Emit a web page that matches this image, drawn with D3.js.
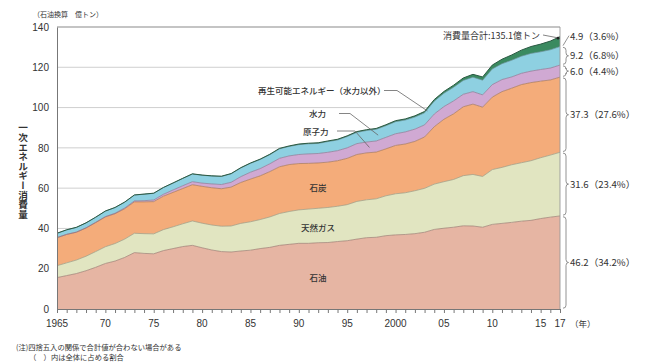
<!DOCTYPE html>
<html><head><meta charset="utf-8">
<script src="https://cdn.jsdelivr.net/npm/d3@7"></script>
<style>
html,body{margin:0;padding:0;background:#fff;}
svg text{font-family:"Noto Sans CJK JP","Noto Sans",sans-serif;fill:#333;}
.num{font-family:"Liberation Sans",Arial,sans-serif;}
</style></head>
<body>
<svg id="c" width="650" height="364"></svg>
<script>
const years = [1965,1966,1967,1968,1969,1970,1971,1972,1973,1974,1975,1976,1977,1978,1979,1980,1981,1982,1983,1984,1985,1986,1987,1988,1989,1990,1991,1992,1993,1994,1995,1996,1997,1998,1999,2000,2001,2002,2003,2004,2005,2006,2007,2008,2009,2010,2011,2012,2013,2014,2015,2016,2017];
const oil = [15.6,16.6,17.6,19.0,20.7,22.6,23.8,25.6,28.0,27.6, 27.4,29.0,30.0,31.0,31.6,30.4,29.3,28.5,28.3,28.8, 29.2,30.0,30.6,31.6,32.1,32.6,32.6,32.9,33.0,33.5, 33.9,34.7,35.4,35.6,36.4,36.8,37.0,37.4,38.1,39.5, 40.1,40.6,41.3,41.2,40.6,42.0,42.5,43.0,43.6,44.0, 44.9,45.6,46.2];
const gas = [5.9,6.3,6.7,7.2,7.8,8.3,8.7,9.1,9.6,9.8, 9.9,10.4,10.8,11.3,12.1,12.2,12.4,12.6,12.9,13.7, 14.1,14.4,15.1,15.8,16.3,16.6,17.0,17.1,17.4,17.5, 17.9,18.7,18.8,19.1,19.8,20.4,20.7,21.3,21.8,22.5, 23.1,23.7,24.9,25.6,25.2,27.2,27.8,28.6,29.0,29.6, 30.2,30.8,31.6];
const coal = [13.9,14.1,13.8,14.0,14.4,14.8,14.8,15.1,15.6,15.8, 16.0,16.6,17.1,17.5,18.0,18.3,18.5,18.6,19.3,20.3, 21.2,21.7,22.5,23.2,23.3,23.0,22.7,22.5,22.5,22.6, 23.0,23.3,23.3,23.2,23.3,24.0,24.2,24.5,25.5,28.5, 31.0,32.6,34.2,34.9,34.4,36.0,37.6,38.0,38.8,38.8, 38.0,37.3,37.3];
const nuclear = [0.06,0.08,0.09,0.12,0.14,0.18,0.25,0.34,0.45,0.58, 0.82,0.96,1.2,1.4,1.5,1.6,1.9,2.1,2.4,2.9, 3.4,3.6,3.9,4.2,4.3,4.5,4.7,4.7,4.9,5.0, 5.2,5.4,5.4,5.5,5.7,5.8,6.0,6.1,6.0,6.3, 6.3,6.4,6.2,6.2,6.1,6.2,6.0,5.6,5.6,5.7, 5.8,5.9,6.0];
const hydro = [2.1,2.2,2.3,2.4,2.5,2.7,2.8,2.9,2.9,3.2, 3.3,3.3,3.4,3.6,3.8,3.9,3.9,4.0,4.2,4.3, 4.4,4.5,4.5,4.7,4.7,4.9,5.0,5.0,5.3,5.3, 5.6,5.6,5.7,5.8,5.8,6.0,5.9,6.0,6.0,6.4, 6.6,6.8,6.9,7.2,7.3,7.8,7.9,8.3,8.5,8.8, 8.8,9.1,9.2];
const renew = [0.05,0.05,0.05,0.05,0.05,0.06,0.06,0.06,0.07,0.07, 0.08,0.08,0.09,0.09,0.1,0.1,0.11,0.12,0.14,0.16, 0.18,0.2,0.22,0.24,0.26,0.3,0.31,0.32,0.33,0.35, 0.37,0.39,0.42,0.44,0.47,0.5,0.55,0.6,0.68,0.78, 0.9,1.0,1.2,1.4,1.6,1.9,2.2,2.6,3.0,3.4, 3.8,4.3,4.9];

const seriesKeys = ["oil","gas","coal","nuclear","hydro","renew"];
const seriesNames = ["石油","天然ガス","石炭","原子力","水力","再生可能エネルギー（水力以外）"];
const seriesColors = ["#e6b5a3","#e1e5c1","#f4ac7a","#d0a9d3","#8ed0e1","#3a8a60"];
const rightLabels = ["46.2（34.2%）","31.6（23.4%）","37.3（27.6%）","6.0（4.4%）","9.2（6.8%）","4.9（3.6%）"];
const yTicks = [0,20,40,60,80,100,120,140];
const xTickYears = [1965,1970,1975,1980,1985,1990,1995,2000,2005,2010,2015,2017];
const xTickLabels = ["1965","70","75","80","85","90","95","2000","05","10","15","17"];
const totalLabel = "消費量合計:135.1億トン";

const svg = d3.select("#c");
const x = d3.scaleLinear().domain([1965,2017]).range([57,560]);
const y = d3.scaleLinear().domain([0,140]).range([309,27]);

const table = years.map((yr,i)=>({year:yr,oil:oil[i],gas:gas[i],coal:coal[i],nuclear:nuclear[i],hydro:hydro[i],renew:renew[i]}));
const stack = d3.stack().keys(seriesKeys)(table);

// grid
svg.append("g").selectAll("line").data(yTicks.filter(d=>d>0)).join("line")
  .attr("x1",x(1965)).attr("x2",x(2017)).attr("y1",d=>y(d)).attr("y2",d=>y(d))
  .attr("stroke","#c9c9c9").attr("stroke-width",0.9);

// areas
const area = d3.area().x(d=>x(d.data.year)).y0(d=>y(d[0])).y1(d=>y(d[1]));
const topLine = d3.line().x(d=>x(d.data.year)).y(d=>y(d[1]));
svg.append("g").selectAll("path").data(stack).join("path")
  .attr("d",area).attr("fill",(d,i)=>seriesColors[i]);
svg.append("g").selectAll("path").data(stack).join("path")
  .attr("d",topLine).attr("fill","none")
  .attr("stroke",(d,i)=> i===5 ? "#2c5a44" : d3.color(seriesColors[i]).darker(1.1))
  .attr("stroke-width",(d,i)=> i===5 ? 1 : 0.7);

// frame
svg.append("path").attr("d",`M${x(1965)},${y(140)}H${x(2017)}V${y(0)}`)
  .attr("fill","none").attr("stroke","#999").attr("stroke-width",0.9);
// axes
const yAxis = svg.append("g").attr("transform",`translate(${x(1965)},0)`)
  .call(d3.axisLeft(y).tickValues(yTicks).tickSize(0).tickPadding(8));
yAxis.select(".domain").attr("stroke","#777");
yAxis.selectAll("text").attr("class","num").style("font-size","10px").style("fill","#333");

const xAxis = svg.append("g").attr("transform",`translate(0,${y(0)})`)
  .call(d3.axisBottom(x).tickValues(years).tickSize(4).tickFormat(""));
xAxis.select(".domain").attr("stroke","#777");
xAxis.selectAll(".tick line").attr("stroke","#777");
svg.append("g").selectAll("text").data(xTickYears).join("text")
  .attr("class","num").attr("x",d=>x(d)).attr("y",327).attr("text-anchor","middle")
  .style("font-size","10px").text((d,i)=>xTickLabels[i]);
svg.append("text").attr("x",570).attr("y",327).style("font-size","8.5px").text("（年）");

// unit and axis title
svg.append("text").attr("x",33).attr("y",17).style("font-size","7px").text("（石油換算　億トン）");
svg.append("text").attr("x",23).attr("y",123)
  .style("writing-mode","vertical-rl").style("font-size","9.6px").style("font-weight","bold")
  .text("一次エネルギー消費量");

// right braces and labels
const last = stack.map(s=>s[s.length-1]);
const bx = 563;
function brace(y1,y2){
  const m=(y1+y2)/2, w=3;
  return `M${bx},${y1}Q${bx+w},${y1} ${bx+w},${y1+3}L${bx+w},${m-3}Q${bx+w},${m} ${bx+w+2.5},${m}Q${bx+w},${m} ${bx+w},${m+3}L${bx+w},${y2-3}Q${bx+w},${y2} ${bx},${y2}`;
}
last.forEach((d,i)=>{
  const y1=y(d[1]), y2=y(d[0]);
  if(i<5){
    svg.append("path").attr("d",brace(y1+0.8,y2-0.8)).attr("fill","none").attr("stroke","#777").attr("stroke-width",0.8);
    svg.append("text").attr("x",570).attr("y",(y1+y2)/2+3.5).style("font-size","9.6px").text(rightLabels[i]);
  } else {
    svg.append("line").attr("x1",563).attr("y1",(y1+y2)/2+4).attr("x2",569).attr("y2",y1-1)
      .attr("stroke","#777").attr("stroke-width",0.8);
    svg.append("text").attr("x",570).attr("y",y1+3).style("font-size","9.6px").text(rightLabels[i]);
  }
});

// total annotation
const totTop = y(last[5][1]);
svg.append("text").attr("x",443).attr("y",39).style("font-size","9px").text(totalLabel);
svg.append("path").attr("d",`M543,35L${x(2017)-3},${totTop+1}`).attr("fill","none").attr("stroke","#666").attr("stroke-width",0.8);
svg.append("circle").attr("cx",x(2017)-2).attr("cy",totTop+1.5).attr("r",1.3).attr("fill","#222");

// series labels with leaders
function yAt(k,yr){const s=stack[k];const i=years.indexOf(yr);return s[i];}
svg.append("text").attr("x",258).attr("y",94).style("font-size","8.5px").style("font-weight","500").text(seriesNames[5]);
svg.append("path").attr("d",`M384,90.5H397L${x(2003.3)},${y(yAt(5,2003)[1])-0.5}`).attr("fill","none").attr("stroke","#666").attr("stroke-width",0.8);

svg.append("text").attr("x",309).attr("y",117).style("font-size","8.5px").style("font-weight","500").text(seriesNames[4]);
svg.append("path").attr("d",`M339,113.5H350L${x(1998.2)},${y((yAt(4,1998)[0]+yAt(4,1998)[1])/2)}`).attr("fill","none").attr("stroke","#666").attr("stroke-width",0.8);

svg.append("text").attr("x",303).attr("y",135).style("font-size","8.5px").style("font-weight","500").text(seriesNames[3]);
svg.append("path").attr("d",`M337,131H355L${x(1997.3)},${y((yAt(3,1997)[0]+yAt(3,1997)[1])/2)}`).attr("fill","none").attr("stroke","#666").attr("stroke-width",0.8);

svg.append("text").attr("x",318).attr("y",191).attr("text-anchor","middle").style("font-size","8.5px").style("font-weight","500").text(seriesNames[2]);
svg.append("text").attr("x",318).attr("y",231).attr("text-anchor","middle").style("font-size","8.5px").style("font-weight","500").text(seriesNames[1]);
svg.append("text").attr("x",318).attr("y",281).attr("text-anchor","middle").style("font-size","8.5px").style("font-weight","500").text(seriesNames[0]);

// notes
svg.append("text").attr("x",16).attr("y",350).style("font-size","7.3px").text("(注)四捨五入の関係で合計値が合わない場合がある");
svg.append("text").attr("x",29).attr("y",360).style("font-size","7.3px").text("（　）内は全体に占める割合");
</script>
</body></html>
